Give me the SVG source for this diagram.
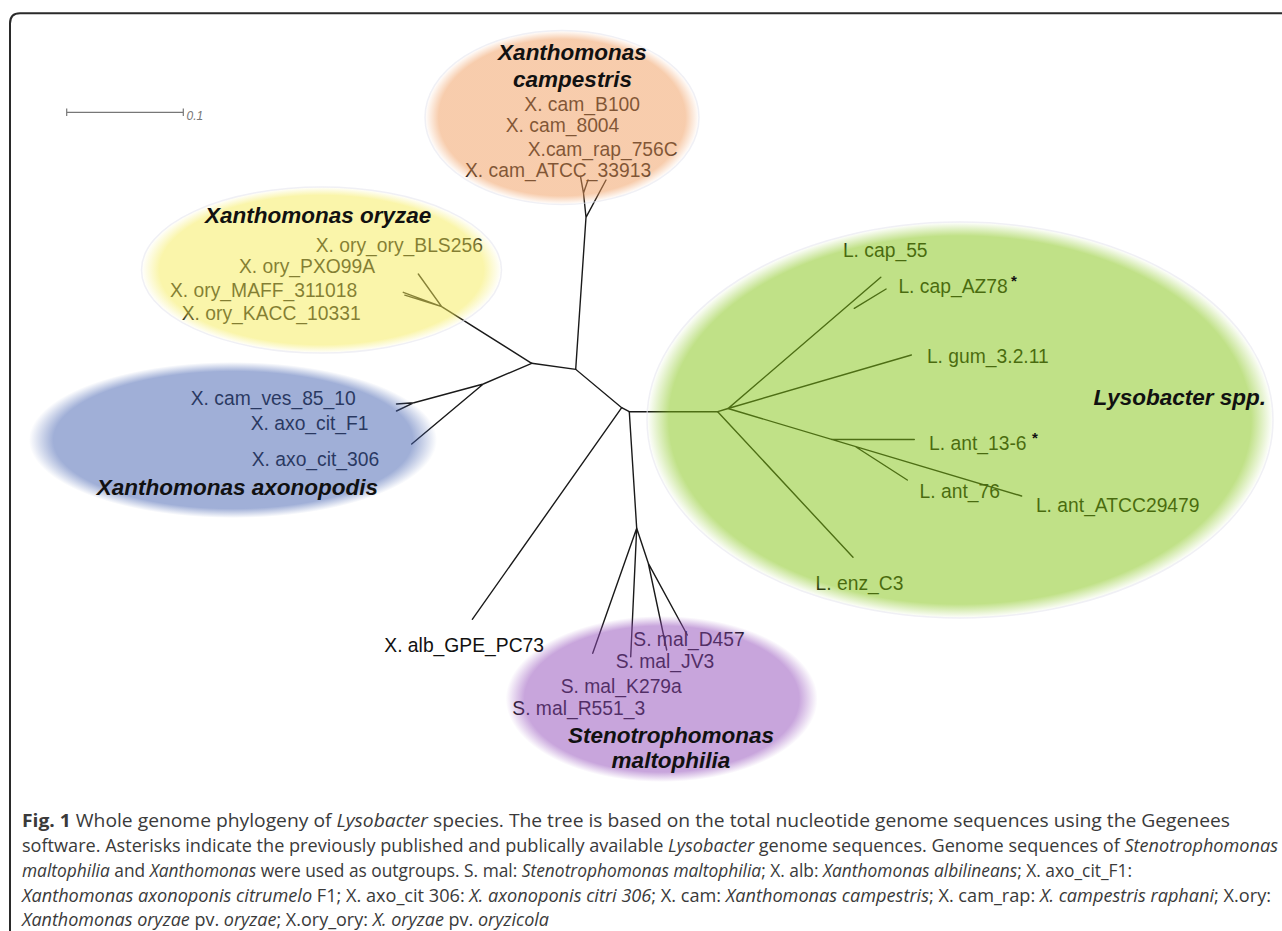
<svg xmlns="http://www.w3.org/2000/svg" width="1282" height="931" viewBox="0 0 1282 931">
<style>
.leaf{font-family:"Liberation Sans",Arial,sans-serif;font-size:19.3px;fill:#111}
.title{font-family:"Liberation Sans",Arial,sans-serif;font-size:22.5px;font-weight:bold;font-style:italic;fill:#111}
.star{font-family:"Liberation Sans",Arial,sans-serif;font-size:15px;font-weight:bold;fill:#111}
.br{stroke:#1a1a1a;stroke-width:1.4;fill:none;stroke-linecap:round}
.cap{font-family:"Open Sans","DejaVu Sans",sans-serif;font-size:17.5px;fill:#3a3a3a}
.it{font-style:italic}
.rim{fill:none;stroke:#e6e6ee;stroke-width:1.5;stroke-opacity:0.6}
</style>
<defs>
<radialGradient id="gOr"><stop offset="0" stop-color="#F09A5A" stop-opacity="0.5"/><stop offset="0.9" stop-color="#F09A5A" stop-opacity="0.5"/><stop offset="1" stop-color="#F09A5A" stop-opacity="0"/></radialGradient>
<radialGradient id="gYe"><stop offset="0" stop-color="#F5EB55" stop-opacity="0.5"/><stop offset="0.9" stop-color="#F5EB55" stop-opacity="0.5"/><stop offset="1" stop-color="#F5EB55" stop-opacity="0"/></radialGradient>
<radialGradient id="gBl"><stop offset="0" stop-color="#415FAF" stop-opacity="0.5"/><stop offset="0.88" stop-color="#415FAF" stop-opacity="0.5"/><stop offset="1" stop-color="#415FAF" stop-opacity="0"/></radialGradient>
<radialGradient id="gGr"><stop offset="0" stop-color="#81C30F" stop-opacity="0.5"/><stop offset="0.93" stop-color="#81C30F" stop-opacity="0.5"/><stop offset="1" stop-color="#81C30F" stop-opacity="0"/></radialGradient>
<radialGradient id="gPu"><stop offset="0" stop-color="#914BB9" stop-opacity="0.5"/><stop offset="0.88" stop-color="#914BB9" stop-opacity="0.5"/><stop offset="1" stop-color="#914BB9" stop-opacity="0"/></radialGradient>
</defs>
<rect width="1282" height="931" fill="#fff"/>
<path d="M10,931 V23.5 Q10,13.3 20,13.3 H1282" fill="none" stroke="#2a2a2a" stroke-width="2"/>
<g id="scale-bar">
<path d="M66.7,112.3 H183.3 M66.7,108.5 V116 M183.3,108.5 V116" stroke="#777" stroke-width="1.2" fill="none"/>
<text x="186.5" y="120" font-family="Liberation Sans,Arial,sans-serif" font-size="12" font-style="italic" fill="#777">0.1</text>
</g>
<g id="connectors" class="br">
<path d="M531.7,363.3 L575.7,369.3 L621.7,407.7 L629.3,411.7"/>
<path d="M621.7,407.7 L472.3,619.3"/>
<path d="M629.3,411.7 H717.7"/>
<path d="M629.3,411.7 L636.7,528.3"/>
<path d="M575.7,369.3 L586,217.3 L583.5,193 L580.5,176.5 M583.5,193 L588,180 M586,217.3 L606,180"/>
<path d="M531.7,363.3 L441.7,306.7 L418.3,274 M441.7,306.7 L403.3,292.3 M441.7,306.7 L404.8,295.2"/>
<path d="M531.7,363.3 L483.3,384 L414,402.7 L396.5,404 M414,402.7 L396.5,411 M483.3,384 L411.7,444"/>
<path d="M636.7,528.3 L592.7,653.3 M636.7,528.3 L630.7,656.7 M636.7,528.3 L648.3,563.3 L666.7,650 M648.3,563.3 L687.3,635"/>
<path d="M717.7,411.7 L728,408.5 L880.8,277.3 M854.3,308.3 L886.1,289 M728,408.5 L911.4,355 M728,408.5 L1021.6,496 M831.8,439.5 H914.3 M856,447 L907.3,480 M717.7,411.7 L853,557.3"/>
</g>
<g id="clade-campestris">
<text class="leaf" x="524.3" y="111">X. cam_B100</text>
<text class="leaf" x="505.7" y="132.3">X. cam_8004</text>
<text class="leaf" x="527.7" y="156">X.cam_rap_756C</text>
<text class="leaf" x="465" y="176.7">X. cam_ATCC_33913</text>
<ellipse cx="562" cy="117.5" rx="137" ry="87" fill="url(#gOr)"/>
<ellipse class="rim" cx="562" cy="117.5" rx="137" ry="87"/>
<text class="title" x="572.5" y="60" text-anchor="middle">Xanthomonas</text>
<text class="title" x="572.5" y="87.3" text-anchor="middle">campestris</text>
</g>
<g id="clade-oryzae">
<text class="leaf" x="315.7" y="251.7">X. ory_ory_BLS256</text>
<text class="leaf" x="239" y="273.3">X. ory_PXO99A</text>
<text class="leaf" x="170" y="297.3">X. ory_MAFF_311018</text>
<text class="leaf" x="181.7" y="320">X. ory_KACC_10331</text>
<ellipse cx="321.5" cy="270" rx="180" ry="83" fill="url(#gYe)"/>
<ellipse class="rim" cx="321.5" cy="270" rx="180" ry="83"/>
<text class="title" x="205" y="223.3">Xanthomonas oryzae</text>
</g>
<g id="clade-axonopodis">
<text class="leaf" x="190.7" y="405">X. cam_ves_85_10</text>
<text class="leaf" x="250.7" y="430">X. axo_cit_F1</text>
<text class="leaf" x="251.7" y="466">X. axo_cit_306</text>
<ellipse cx="233" cy="440" rx="204" ry="78" fill="url(#gBl)"/>
<text class="title" x="96.7" y="495">Xanthomonas axonopodis</text>
</g>
<g id="leaf-albilineans">
<text class="leaf" x="544" y="651.7" text-anchor="end">X. alb_GPE_PC73</text>
</g>
<g id="clade-stenotrophomonas">
<text class="leaf" x="633.3" y="646">S. mal_D457</text>
<text class="leaf" x="615.7" y="668.3">S. mal_JV3</text>
<text class="leaf" x="560.7" y="693.3">S. mal_K279a</text>
<text class="leaf" x="512.3" y="715">S. mal_R551_3</text>
<ellipse cx="661.7" cy="699" rx="156" ry="83" fill="url(#gPu)"/>
<text class="title" x="671" y="743.3" text-anchor="middle">Stenotrophomonas</text>
<text class="title" x="671" y="768.3" text-anchor="middle">maltophilia</text>
</g>
<g id="clade-lysobacter">
<text class="leaf" x="842.9" y="257.3">L. cap_55</text>
<text class="leaf" x="898.4" y="292.7">L. cap_AZ78</text>
<text class="leaf" x="926.9" y="363.3">L. gum_3.2.11</text>
<text class="leaf" x="929" y="450">L. ant_13-6</text>
<text class="leaf" x="919.6" y="498.3">L. ant_76</text>
<text class="leaf" x="1035.9" y="511.7">L. ant_ATCC29479</text>
<text class="leaf" x="815.5" y="590">L. enz_C3</text>
<ellipse cx="960" cy="420" rx="313" ry="198" fill="url(#gGr)"/>
<ellipse class="rim" cx="960" cy="420" rx="313" ry="198"/>
<text class="star" x="1011" y="286">*</text>
<text class="star" x="1032" y="443">*</text>
<text class="title" x="1266" y="405" text-anchor="end">Lysobacter spp.</text>
</g>
<g id="caption" class="cap">
<text x="22" y="827" textLength="1208" lengthAdjust="spacingAndGlyphs"><tspan font-weight="bold">Fig. 1</tspan> Whole genome phylogeny of <tspan class="it">Lysobacter</tspan> species. The tree is based on the total nucleotide genome sequences using the Gegenees</text>
<text x="22" y="852" textLength="1256" lengthAdjust="spacingAndGlyphs">software. Asterisks indicate the previously published and publically available <tspan class="it">Lysobacter</tspan> genome sequences. Genome sequences of <tspan class="it">Stenotrophomonas</tspan></text>
<text x="22" y="877" textLength="1110" lengthAdjust="spacingAndGlyphs"><tspan class="it">maltophilia</tspan> and <tspan class="it">Xanthomonas</tspan> were used as outgroups. S. mal: <tspan class="it">Stenotrophomonas maltophilia</tspan>; X. alb: <tspan class="it">Xanthomonas albilineans</tspan>; X. axo_cit_F1:</text>
<text x="22" y="902" textLength="1249" lengthAdjust="spacingAndGlyphs"><tspan class="it">Xanthomonas axonoponis citrumelo</tspan> F1; X. axo_cit 306: <tspan class="it">X. axonoponis citri 306</tspan>; X. cam: <tspan class="it">Xanthomonas campestris</tspan>; X. cam_rap: <tspan class="it">X. campestris raphani</tspan>; X.ory:</text>
<text x="22" y="926" textLength="527" lengthAdjust="spacingAndGlyphs"><tspan class="it">Xanthomonas oryzae</tspan> pv. <tspan class="it">oryzae</tspan>; X.ory_ory: <tspan class="it">X. oryzae</tspan> pv. <tspan class="it">oryzicola</tspan></text>
</g>
</svg>
